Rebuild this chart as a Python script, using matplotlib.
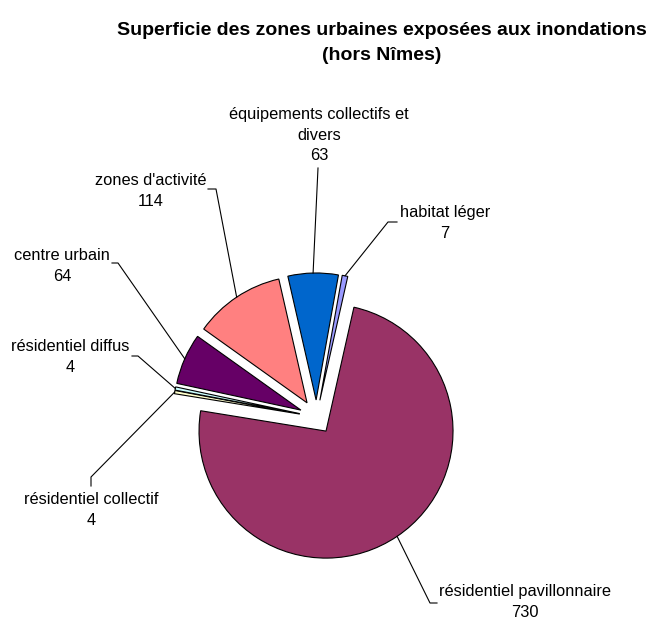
import numpy as np
import matplotlib
matplotlib.use('Agg')
import matplotlib.pyplot as plt

plt.rcParams['font.family'] = ['Liberation Sans', 'DejaVu Sans']

# data (clockwise order, starting with the big slice)
categories = ['résidentiel pavillonnaire', 'résidentiel collectif', 'résidentiel diffus',
              'centre urbain', "zones d'activité", 'équipements collectifs et\ndivers',
              'habitat léger']
values = [730, 4, 4, 64, 114, 63, 7]
colors = ['#993366', '#FFFFCC', '#CCFFFF', '#660066', '#FF8080', '#0066CC', '#9999FF']

# label layout in pixel coords (x, y from top): text centre, line start, elbow
label_pos = [(525, 602), (91, 510), (70, 357), (62, 266), (151, 191), (319, 135), (445, 223)]
leader_start = [(437, 603), (91, 486), (132, 356), (112, 263), (208, 189), (318, 168), (397, 222)]
leader_elbow = [(430, 603), (91, 477), (138, 356), (118, 263), (216, 189), (318, 168), (388, 222)]

W, H = 654, 621
radius = 127


def px(p):
    return p[0], H - p[1]


fig = plt.figure(figsize=(W / 100, H / 100), dpi=100)
ax = fig.add_axes([0, 0, 1, 1])

wedges, _ = ax.pie(values, colors=colors, startangle=77.3, counterclock=False,
                   explode=[0.134 * radius] * len(values), radius=radius,
                   center=(316.5, H - 417),
                   wedgeprops=dict(edgecolor='black', linewidth=0.8))

for w, cat, val, tp, ls, le in zip(wedges, categories, values, label_pos, leader_start, leader_elbow):
    mid = np.deg2rad((w.theta1 + w.theta2) / 2)
    ex = w.center[0] + w.r * np.cos(mid)
    ey = w.center[1] + w.r * np.sin(mid)
    xs = [px(ls)[0], px(le)[0], ex]
    ys = [px(ls)[1], px(le)[1], ey]
    ax.plot(xs, ys, color='black', linewidth=0.8)
    ax.text(*px(tp), f'{cat}\n{val}', ha='center', va='center', fontsize=11.75,
            linespacing=1.5, color='black')

ax.text(382, H - 43, 'Superficie des zones urbaines exposées aux inondations\n(hors Nîmes)',
        ha='center', va='center', fontsize=14, fontweight='bold', linespacing=1.55)

ax.set_xlim(0, W)
ax.set_ylim(0, H)
ax.set_aspect('equal')
ax.axis('off')

fig.savefig('out.png', dpi=100, facecolor='white')
